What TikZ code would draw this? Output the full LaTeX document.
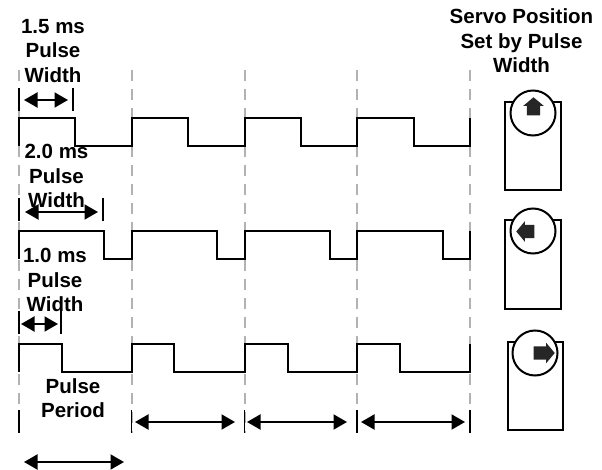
\documentclass[tikz,border=0pt]{standalone}
\usepackage{fontspec}
\setmainfont{Liberation Sans}
\usetikzlibrary{arrows.meta, shapes.arrows}

\tikzset{
	lbl/.style={align=center, inner sep=0pt, font=\fontsize{20.5}{24.4}\selectfont\bfseries},
	wave/.style={line width=2pt, line join=miter},
	guide/.style={line width=2pt, gray!60, dash pattern=on 11pt off 8pt},
	tick/.style={line width=1.8pt},
	span/.style={line width=2pt, {Triangle[length=13.5pt, width=15pt]}-{Triangle[length=13.5pt, width=15pt]}},
	body/.style={draw, line width=2pt, minimum width=55.5pt, minimum height=88pt, inner sep=0pt},
	dial/.style={draw, circle, fill=white, line width=2pt, minimum size=45pt, inner sep=0pt},
	pointer/.style={single arrow, fill=black!85, inner xsep=1pt, inner ysep=6.5pt, minimum height=18pt, single arrow head extend=3.5pt, single arrow tip angle=100, anchor=tip}
}

\begin{document}
\begin{tikzpicture}[x=1pt, y=-1pt]
	\useasboundingbox (0, 0) rectangle (602, 470);
	% dashed guides
	\foreach \gx/\gname in {19/g0, 131.5/g1, 244.5/g2, 357/g3, 470/g4} {
		\coordinate (\gname) at (\gx, 70);
		\draw[guide] (\gname) -- (\gx, 433);
	}
	% pulse trains
	\draw[wave] (19, 146) |- (75, 118) |- (131.5, 146) |- (188, 118) |- (244.5, 146) |- (301, 118) |- (357, 146) |- (414, 118) |- (470, 146) -- (470, 118);
	\draw[wave] (19, 259.5) |- (103.5, 231) |- (131.5, 259.5) |- (217, 231) |- (244.5, 259.5) |- (330, 231) |- (357, 259.5) |- (443, 231) |- (470, 259.5) -- (470, 231);
	\draw[wave] (19, 372) |- (61.5, 344) |- (131.5, 372) |- (174, 344) |- (244.5, 372) |- (288, 344) |- (357, 372) |- (400, 344) |- (470, 372) -- (470, 344);
	% ticks
	\foreach \tx/\ty in {19/88, 73/88, 19/198, 103/198, 19/311, 61/311, 19/410, 131.5/410, 244.5/410, 357/410, 470/410} {
		\draw[tick] (\tx, \ty) -- (\tx, \ty + 23);
	}
	% labels
	\node[lbl] (w15) at (53, 51) {1.5 ms\\Pulse\\Width};
	\node[lbl] (w20) at (56.5, 176) {2.0 ms\\Pulse\\Width};
	\node[lbl] (w10) at (55, 280) {1.0 ms\\Pulse\\Width};
	\node[lbl] (period) at (73, 398) {Pulse\\Period};
	\node[lbl] (title) at (521.5, 41) {Servo Position\\Set by Pulse\\Width};
	% spans
	\coordinate (a1) at (24, 100);
	\coordinate (b1) at (68, 100);
	\coordinate (a2) at (25, 212);
	\coordinate (b2) at (98, 212);
	\coordinate (a3) at (21, 324);
	\coordinate (b3) at (58, 324);
	\coordinate (a4) at (24, 462);
	\coordinate (b4) at (124, 462);
	\coordinate (a5) at (135, 422);
	\coordinate (b5) at (235, 422);
	\coordinate (a6) at (247, 422);
	\coordinate (b6) at (347, 422);
	\coordinate (a7) at (361, 422);
	\coordinate (b7) at (465, 422);
	\foreach \i in {1, ..., 7} {
		\path[span] (a\i) edge (b\i);
	}
	% servos
	\node[body] (s1) at (533, 146) {};
	\node[dial] (d1) at (533, 113) {};
	\node[pointer, rotate=90] (p1) at (533.5, 97) {};
	\node[body] (s2) at (533, 264.5) {};
	\node[dial] (d2) at (533, 231) {};
	\node[pointer, rotate=180] (p2) at (516, 231.5) {};
	\node[body] (s3) at (535.5, 386) {};
	\node[dial] (d3) at (535, 353) {};
	\node[pointer, minimum height=21pt] (p3) at (555, 353) {};
\end{tikzpicture}
\end{document}
